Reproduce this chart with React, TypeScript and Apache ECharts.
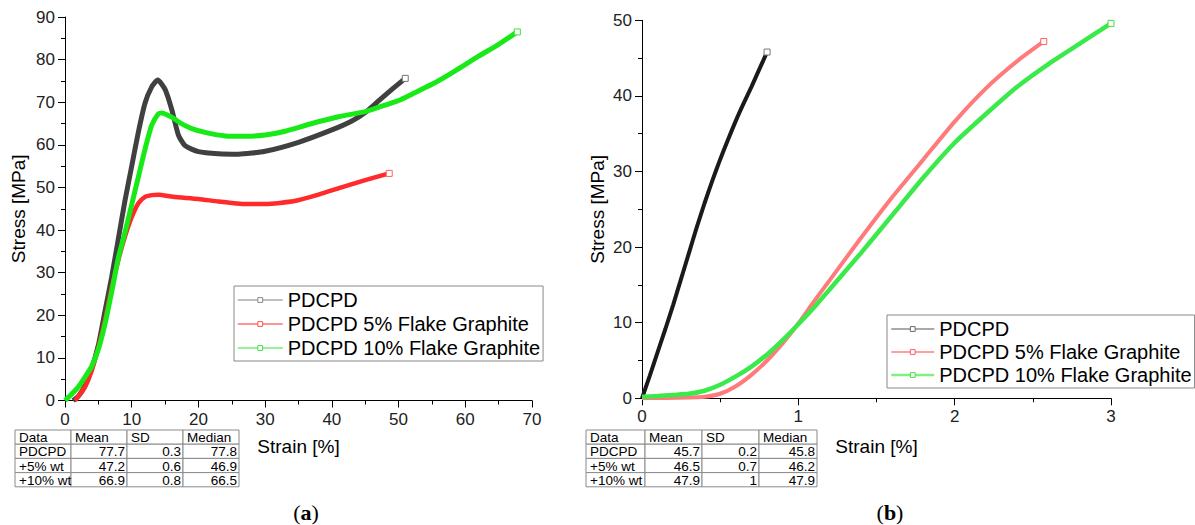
import React, { useEffect, useRef } from 'react';
import * as echarts from 'echarts';

const FONT = '"Liberation Sans", Arial, sans-serif';
const SERIF = '"Liberation Serif", "Times New Roman", serif';

const SERIES_NAMES = ['PDCPD', 'PDCPD 5% Flake Graphite', 'PDCPD 10% Flake Graphite'];

// (a) Stress vs strain, 0-70 %
const A_PDCPD: [number, number][] = [
  [1.2, 0], [2, 1], [3, 3.5], [4, 7.5], [5, 13], [6, 21], [7, 29], [8, 38], [9, 47], [10, 55],
  [11, 63], [12, 69.8], [13, 73.6], [13.9, 75.2], [15, 73], [16, 68.3], [17, 62.3], [18, 59.8],
  [20, 58.4], [23, 57.9], [26, 57.8], [30, 58.5], [35, 60.6], [40, 63.5], [43, 65.6], [45, 67.6],
  [47, 70.3], [49, 73], [51, 75.6],
];
const A_PDCPD5: [number, number][] = [
  [1.5, 0], [2, 1], [3, 3.2], [4, 7], [5, 12.5], [6, 19], [7, 26.5], [8, 33], [9, 38.5], [10, 43],
  [11, 46.3], [12, 47.8], [13, 48.2], [14, 48.3], [16.2, 47.8], [20, 47.3], [23, 46.7], [26.2, 46.2],
  [30, 46.1], [34.4, 46.8], [38, 48.3], [41.8, 50.2], [45, 51.7], [48.6, 53.3],
];
const A_PDCPD10: [number, number][] = [
  [0, 0], [1, 1.5], [2, 3.2], [3, 5.5], [4, 8], [5, 12], [6, 18], [7, 25.5], [8, 33.5], [9, 39.5],
  [10, 46], [11, 52.5], [12, 59], [13, 64.6], [14, 67.3], [14.5, 67.5], [16, 66.5], [17.2, 65.2],
  [19, 63.8], [21.3, 62.8], [24, 62.1], [27, 62], [30, 62.3], [33, 63.2], [37, 65], [41, 66.6],
  [45, 67.8], [47, 68.8], [50, 70.4], [52, 71.9], [55, 74.2], [58, 76.9], [62, 80.8], [65, 83.6],
  [67.8, 86.5],
];

// (b) Stress vs strain, 0-3 %
const B_PDCPD: [number, number][] = [
  [0, 0], [0.05, 3], [0.1, 6.1], [0.15, 9.2], [0.2, 12.4], [0.25, 15.8], [0.3, 19.2], [0.35, 22.6],
  [0.4, 25.8], [0.45, 28.8], [0.5, 31.6], [0.55, 34.2], [0.6, 36.7], [0.65, 39], [0.7, 41.2],
  [0.75, 43.5], [0.8, 45.8],
];
const B_PDCPD5: [number, number][] = [
  [0, 0], [0.3, 0.1], [0.4, 0.2], [0.5, 0.6], [0.6, 1.6], [0.7, 3.1], [0.8, 5], [0.9, 7.3], [1.0, 9.9],
  [1.1, 12.8], [1.2, 15.6], [1.4, 21.2], [1.6, 26.6], [1.8, 31.6], [2.0, 36.6], [2.2, 41],
  [2.4, 44.6], [2.57, 47.2],
];
const B_PDCPD10: [number, number][] = [
  [0, 0.2], [0.1, 0.3], [0.2, 0.45], [0.3, 0.6], [0.4, 1.0], [0.5, 1.8], [0.6, 2.9], [0.7, 4.2],
  [0.8, 5.8], [0.9, 7.7], [1.0, 9.8], [1.1, 12], [1.2, 14.4], [1.4, 19.2], [1.6, 24.2], [1.8, 29.2],
  [2.0, 33.8], [2.2, 37.6], [2.4, 41.2], [2.6, 44.2], [2.8, 46.9], [3.0, 49.6],
];

const TABLE_HEADER = ['Data', 'Mean', 'SD', 'Median'];
const TABLE_A_ROWS = [
  ['PDCPD', '77.7', '0.3', '77.8'],
  ['+5% wt', '47.2', '0.6', '46.9'],
  ['+10% wt', '66.9', '0.8', '66.5'],
];
const TABLE_B_ROWS = [
  ['PDCPD', '45.7', '0.2', '45.8'],
  ['+5% wt', '46.5', '0.7', '46.2'],
  ['+10% wt', '47.9', '1', '47.9'],
];

function axis(gridIndex: number, min: number, max: number, interval: number, name: string, nameGap: number) {
  return {
    type: 'value',
    gridIndex,
    min,
    max,
    interval,
    name,
    nameLocation: 'middle',
    nameGap,
    nameTextStyle: { fontFamily: FONT, fontSize: 19, color: '#000' },
    axisLine: { show: true, onZero: false, lineStyle: { color: '#000', width: 1 } },
    axisTick: { show: true, inside: false, length: 7, lineStyle: { color: '#000', width: 1 } },
    minorTick: { show: true, splitNumber: 2, length: 4, lineStyle: { color: '#000', width: 1 } },
    axisLabel: { fontFamily: FONT, fontSize: 17, color: '#222', margin: 10 },
    splitLine: { show: false },
    minorSplitLine: { show: false },
  };
}

function lineSeries(name: string, data: [number, number][], idx: number, color: string, width: number, marker: string, z: number) {
  const last = data.length - 1;
  return {
    type: 'line',
    name,
    xAxisIndex: idx,
    yAxisIndex: idx,
    data,
    smooth: 0.2,
    symbol: 'rect',
    showSymbol: true,
    symbolSize: (_v: any, p: any) => (p.dataIndex === last ? 6 : 0),
    itemStyle: { color: '#fff', borderColor: marker, borderWidth: 1 },
    lineStyle: { color, width },
    emphasis: { disabled: true },
    z,
  };
}

function table(x: number[], yTop: number, rowH: number, rows: string[][]) {
  const els: any[] = [];
  const all = [TABLE_HEADER, ...rows];
  all.forEach((row, r) => {
    row.forEach((cell, c) => {
      const y0 = yTop + r * rowH;
      els.push({
        type: 'rect',
        shape: { x: x[c], y: y0, width: x[c + 1] - x[c], height: rowH },
        style: { fill: '#fff', stroke: '#8a8a8a', lineWidth: 1 },
        z: 10,
      });
      const rightAlign = r > 0 && c > 0;
      els.push({
        type: 'text',
        x: rightAlign ? x[c + 1] - 2 : x[c] + 4,
        y: y0 + rowH / 2 + 0.5,
        style: {
          text: cell,
          font: `13.5px ${FONT}`,
          fill: '#000',
          align: rightAlign ? 'right' : 'left',
          textAlign: rightAlign ? 'right' : 'left',
          verticalAlign: 'middle',
          textVerticalAlign: 'middle',
        },
        z: 11,
      });
    });
  });
  return els;
}

function panelLabel(cx: number, cy: number, letter: string) {
  return {
    type: 'text',
    x: cx,
    y: cy,
    style: {
      text: `{p|(}{b|${letter}}{p|)}`,
      align: 'center',
      textAlign: 'center',
      verticalAlign: 'middle',
      textVerticalAlign: 'middle',
      rich: {
        p: { fontFamily: SERIF, fontSize: 22, color: '#000' },
        b: { fontFamily: SERIF, fontSize: 22, fontWeight: 'bold', color: '#000' },
      },
    },
  };
}

function legendData(colors: string[], markers: string[], widths: number[]) {
  return SERIES_NAMES.map((n, i) => ({
    name: n,
    itemStyle: { color: '#fff', borderColor: markers[i], borderWidth: 1 },
    lineStyle: { color: colors[i], width: widths[i] },
  }));
}

export default function App() {
  const ref = useRef<HTMLDivElement>(null);
  useEffect(() => {
    const chart = echarts.init(ref.current!, null, { renderer: 'svg' });
    const option: any = {
      animation: false,
      backgroundColor: '#fff',
      grid: [
        { left: 65, top: 17, width: 467, height: 383.5 },
        { left: 642, top: 20.3, width: 469, height: 378 },
      ],
      xAxis: [
        axis(0, 0, 70, 10, 'Strain [%]', 36),
        axis(1, 0, 3, 1, 'Strain [%]', 38.5),
      ],
      yAxis: [
        axis(0, 0, 90, 10, 'Stress [MPa]', 37),
        axis(1, 0, 50, 10, 'Stress [MPa]', 35),
      ],
      legend: [
        {
          orient: 'vertical',
          left: 234,
          top: 286,
          padding: [4, 3, 3, 3],
          itemGap: 4,
          itemWidth: 45,
          itemHeight: 6,
          borderColor: '#888',
          borderWidth: 1,
          selectedMode: false,
          textStyle: { fontFamily: FONT, fontSize: 20, color: '#000' },
          data: legendData(['#aaaaaa', '#ff7070', '#70f070'], ['#888888', '#ff5050', '#40e040'], [1.5, 1.5, 1.5]),
        },
        {
          orient: 'vertical',
          left: 887,
          top: 315,
          padding: [4, 3, 3, 3],
          itemGap: 3,
          itemWidth: 43,
          itemHeight: 6,
          borderColor: '#888',
          borderWidth: 1,
          selectedMode: false,
          textStyle: { fontFamily: FONT, fontSize: 20, color: '#000' },
          data: legendData(['#555555', '#ff8080', '#80f080'], ['#666666', '#ff6060', '#40e040'], [1, 1.5, 2.5]),
        },
      ],
      series: [
        lineSeries(SERIES_NAMES[0], A_PDCPD, 0, '#404040', 5, '#777777', 2),
        lineSeries(SERIES_NAMES[1], A_PDCPD5, 0, '#ff2a2a', 4.5, '#ff6060', 3),
        lineSeries(SERIES_NAMES[2], A_PDCPD10, 0, '#18ea18', 5, '#40e040', 4),
        lineSeries(SERIES_NAMES[0], B_PDCPD, 1, '#1a1a1a', 4, '#777777', 2),
        lineSeries(SERIES_NAMES[1], B_PDCPD5, 1, '#ff7a7a', 4, '#ff6060', 3),
        lineSeries(SERIES_NAMES[2], B_PDCPD10, 1, '#3aea4a', 4.5, '#40e040', 4),
      ],
      graphic: [
        ...table([15, 71, 127, 183, 239], 430, 14.2, TABLE_A_ROWS),
        ...table([586, 645, 702, 759, 817], 430, 14.2, TABLE_B_ROWS),
        panelLabel(306, 512, 'a'),
        panelLabel(890, 512, 'b'),
      ],
    };
    chart.setOption(option);
    return () => chart.dispose();
  }, []);
  return (
    <div
      ref={ref}
      style={{ position: 'fixed', left: 0, top: 0, width: 1195, height: 525, background: '#fff' }}
    />
  );
}
